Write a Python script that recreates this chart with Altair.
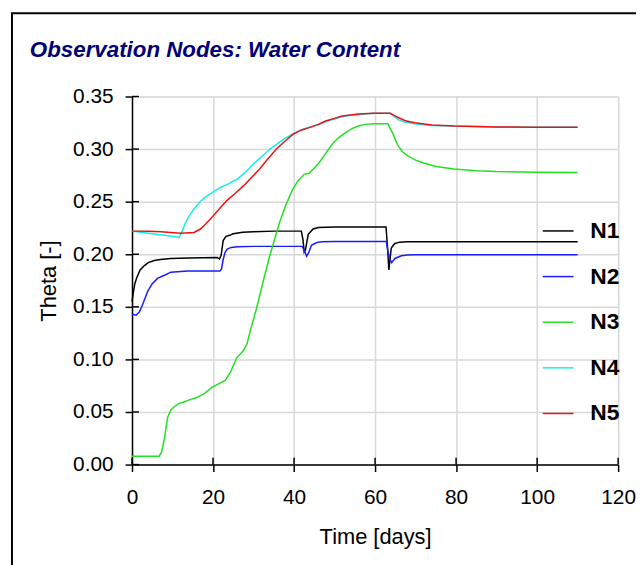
import altair as alt
import pandas as pd

title_text = "Observation Nodes: Water Content"
x_title = "Time [days]"
y_title = "Theta [-]"
series_names = ["N1", "N2", "N3", "N4", "N5"]
series_colors = ["#000000", "#1a1aff", "#22e022", "#11eeee", "#ee1111"]
x_ticks = [0, 20, 40, 60, 80, 100, 120]
y_ticks = [0.0, 0.05, 0.10, 0.15, 0.20, 0.25, 0.30, 0.35]

n1_t = [0, 0.3, 0.7, 1.2, 2, 3, 4, 5.5, 7, 9.6, 14, 21, 21.6, 22, 22.5, 23.2, 24.1, 25, 27.3, 30, 35, 41.8,
        42.2, 42.5, 42.8, 43.5, 44.7, 46, 50, 55, 62.7, 63.1, 63.4, 64, 64.8, 66, 68, 72, 80, 90, 100, 110]
n1_v = [0.155, 0.163, 0.172, 0.178, 0.185, 0.189, 0.192, 0.194, 0.195, 0.196, 0.1965, 0.197, 0.1955, 0.199, 0.213,
        0.217, 0.218, 0.2195, 0.221, 0.2215, 0.222, 0.222, 0.214, 0.202, 0.204, 0.219, 0.224, 0.2255, 0.226, 0.226,
        0.226, 0.205, 0.185, 0.206, 0.210, 0.2115, 0.212, 0.212, 0.212, 0.212, 0.212, 0.212]

n2_t = [0, 1, 1.8, 2.5, 3.1, 3.9, 5, 6.3, 8, 9.6, 12, 14, 21.7, 22.1, 22.5, 23, 23.5, 24.5, 26, 30, 35, 42,
        42.5, 43.1, 43.6, 44.3, 45, 45.9, 47, 50, 55, 62.8, 63.1, 63.6, 64.1, 64.9, 66.5, 68, 70, 80, 90, 100, 110]
n2_v = [0.143, 0.142, 0.145, 0.151, 0.157, 0.165, 0.172, 0.177, 0.180, 0.183, 0.1835, 0.184, 0.184, 0.186, 0.195,
        0.202, 0.205, 0.2065, 0.2072, 0.2075, 0.2075, 0.2075, 0.204, 0.198, 0.2015, 0.2085, 0.210, 0.2115, 0.212,
        0.2122, 0.2122, 0.2122, 0.204, 0.196, 0.192, 0.196, 0.1985, 0.1993, 0.1995, 0.1995, 0.1995, 0.1995, 0.1995]

n3_t = [0, 6.7, 7.3, 8, 8.8, 9.6, 10.4, 11.5, 12.8, 14.5, 16.1, 18, 19.8, 21.5, 23, 24.3, 25.9, 26.8, 27.5, 28.4,
        29.1, 30.7, 32.5, 34, 36.4, 38, 39.7, 41, 42.5, 43.7, 45, 46.2, 47.8, 49.4, 51, 52.7, 54.3, 55.9, 57.5, 59.6,
        63.2, 63.8, 64.5, 65.1, 65.7, 66.9, 68.1, 70, 72.2, 75, 79.5, 85, 90, 100, 110]
n3_v = [0.008, 0.008, 0.012, 0.025, 0.045, 0.052, 0.055, 0.058, 0.0595, 0.062, 0.064, 0.068, 0.0737, 0.077, 0.080,
        0.088, 0.102, 0.1053, 0.1085, 0.115, 0.126, 0.148, 0.176, 0.1986, 0.230, 0.247, 0.262, 0.270, 0.276, 0.277,
        0.282, 0.287, 0.296, 0.3046, 0.311, 0.3156, 0.3195, 0.322, 0.3235, 0.324, 0.324, 0.319, 0.314, 0.308, 0.303,
        0.297, 0.2935, 0.2895, 0.2865, 0.2835, 0.281, 0.2795, 0.2786, 0.278, 0.2777]

n4_t = [0, 4, 8, 11.6, 12.4, 13.2, 14.2, 15.3, 16.8, 18.5, 20, 21.8, 23.5, 25.9, 28, 29.9, 32, 34, 36, 38, 40,
        42.1, 44, 46.2, 48.5, 51, 53.5, 55.9, 59.6, 63.7, 64.7, 65.7, 67.5, 69.8, 74, 79.5, 90, 100, 110]
n4_v = [0.222, 0.220, 0.218, 0.216, 0.222, 0.230, 0.237, 0.243, 0.250, 0.2555, 0.259, 0.2635, 0.2665, 0.2713, 0.278,
        0.2856, 0.293, 0.2998, 0.3055, 0.311, 0.315, 0.3188, 0.321, 0.3235, 0.327, 0.330, 0.332, 0.333, 0.334, 0.334,
        0.331, 0.328, 0.3255, 0.324, 0.3225, 0.322, 0.321, 0.3207, 0.3207]

n5_t = [0, 4, 7.2, 12, 15.3, 16.9, 18, 19.3, 21.3, 23.4, 25.5, 27.5, 29.5, 31.5, 33.5, 35.6, 37.6, 39.7, 41.7,
        43.7, 45.7, 47.8, 49.8, 51.9, 53.9, 55.9, 59.6, 63.7, 64.7, 65.7, 67.5, 69.8, 74, 79.5, 90, 100, 110]
n5_v = [0.222, 0.2218, 0.2214, 0.220, 0.2207, 0.224, 0.228, 0.2334, 0.242, 0.251, 0.258, 0.265, 0.273, 0.281,
        0.2905, 0.2998, 0.307, 0.314, 0.318, 0.3204, 0.323, 0.3267, 0.329, 0.3314, 0.3325, 0.3333, 0.334, 0.334,
        0.332, 0.330, 0.327, 0.325, 0.323, 0.322, 0.321, 0.3207, 0.3207]

rows = []
for name, ts, vs in zip(series_names, [n1_t, n2_t, n3_t, n4_t, n5_t], [n1_v, n2_v, n3_v, n4_v, n5_v]):
    for t, v in zip(ts, vs):
        rows.append({"series": name, "t": t, "theta": v})
df = pd.DataFrame(rows)

W, H = 490, 371
FONT = "Liberation Sans"
xscale = alt.Scale(domain=[0, 120], nice=False, zero=False)
yscale = alt.Scale(domain=[0, 0.35], nice=False, zero=False)

common_axis = dict(
    labelFont=FONT, labelFontSize=21, labelColor="black", labelFlush=False,
    titleFont=FONT, titleFontSize=22, titleFontWeight="normal", titleColor="black",
    tickSize=7, tickWidth=1.5, tickColor="black",
    domainColor="black", domainWidth=1.5,
    gridColor="#d8d8d8", gridWidth=1.5,
)
xaxis = alt.Axis(values=x_ticks, title=x_title, labelPadding=15, titlePadding=20, **common_axis)
yaxis = alt.Axis(values=y_ticks, title=y_title, format=".2f", labelPadding=12, titlePadding=12, **common_axis)

legend = alt.Legend(
    orient="none", legendX=413, legendY=119, title=None, padding=0,
    symbolType="stroke", symbolSize=961, symbolStrokeWidth=1.5,
    labelFont=FONT, labelFontSize=23, labelFontWeight="bold", labelColor="black",
    labelOffset=16, rowPadding=17,
)

lines = alt.Chart(df).mark_line(strokeWidth=1.5).encode(
    x=alt.X("t:Q", scale=xscale, axis=xaxis),
    y=alt.Y("theta:Q", scale=yscale, axis=yaxis),
    color=alt.Color("series:N", scale=alt.Scale(domain=series_names, range=series_colors), legend=legend),
)

ytick_df = pd.DataFrame({"theta": y_ticks})
xtick_df = pd.DataFrame({"t": x_ticks})
ytick_layer = alt.Chart(ytick_df).mark_rule(color="black", strokeWidth=1.5).encode(
    y=alt.Y("theta:Q", scale=yscale), x=alt.value(0), x2=alt.value(7)
)
xtick_layer = alt.Chart(xtick_df).mark_rule(color="black", strokeWidth=1.5).encode(
    x=alt.X("t:Q", scale=xscale), y=alt.value(H - 7), y2=alt.value(H)
)

frame = alt.Chart(pd.DataFrame({"a": [0]})).mark_rect(filled=False, stroke="black", strokeWidth=2).encode(
    x=alt.value(-121), x2=alt.value(800), y=alt.value(-84), y2=alt.value(800)
)

title_layer = alt.Chart(pd.DataFrame({"a": [0]})).mark_text(
    align="left", baseline="alphabetic", font=FONT, fontSize=22.5, fontStyle="italic", fontWeight="bold",
    color="#000078",
).encode(x=alt.value(-103), y=alt.value(-40), text=alt.value(title_text))

chart = alt.layer(frame, lines, ytick_layer, xtick_layer, title_layer).properties(
    width=W, height=H,
    padding={"left": 125, "top": 87, "right": 18, "bottom": 99},
    autosize=alt.AutoSizeParams(type="none"),
).configure_view(stroke=None).configure(background="white")

chart.save("out.html", embed_options={"renderer": "svg", "actions": False})
